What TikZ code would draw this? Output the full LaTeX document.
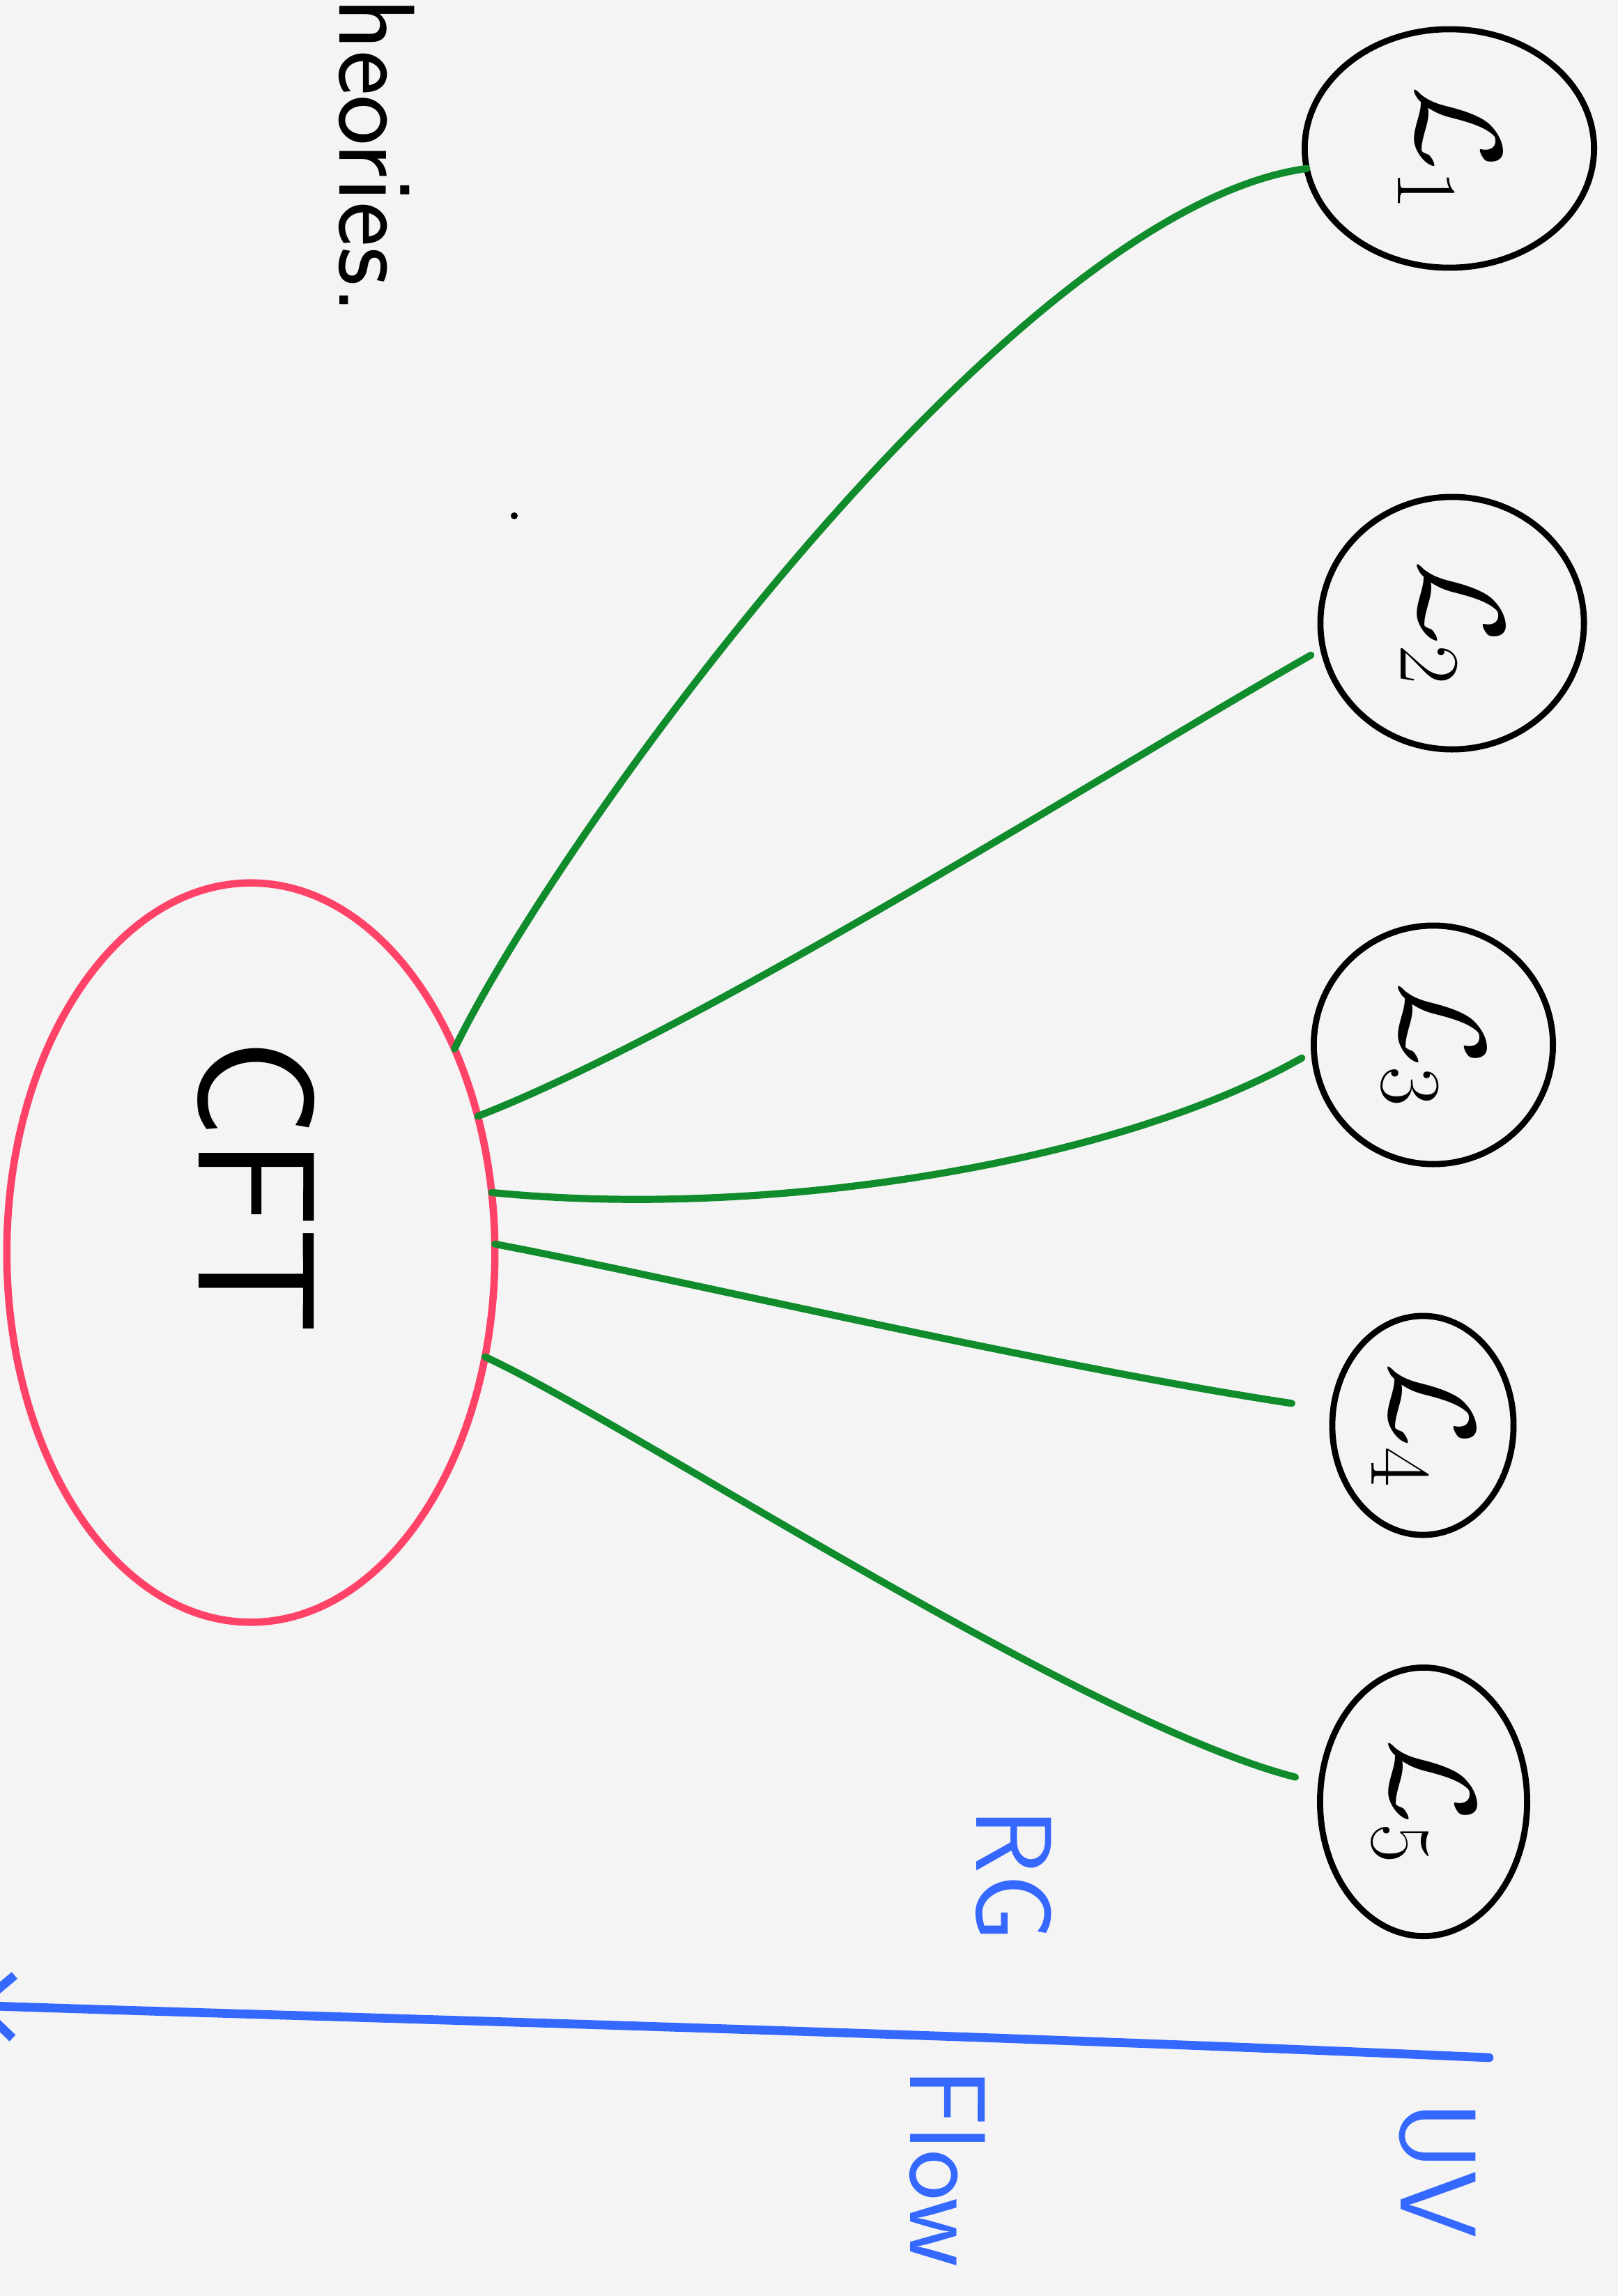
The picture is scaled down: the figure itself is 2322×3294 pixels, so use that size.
\RequirePackage{fix-cm}
\documentclass[tikz,border=0pt]{standalone}
\usepackage{amsmath,amssymb}
\usepackage{fontspec}
\usepackage{graphicx}
\usepackage{xcolor}
\usepackage{tikz}
\usetikzlibrary{shapes.geometric,arrows.meta}

\definecolor{paper}{RGB}{244,244,244}
\definecolor{cftred}{RGB}{255,66,104}
\definecolor{linkgreen}{RGB}{16,140,44}
\definecolor{rgblue}{RGB}{52,104,255}

\newcommand{\turned}[1]{\rotatebox{-90}{#1}}

\tikzset{
    theory/.style={
        ellipse, draw=black, line width=2.5pt,
        inner sep=0pt, outer sep=0pt,
        font=\fontsize{50}{54}\selectfont
    },
    cftblob/.style={
        ellipse, draw=cftred, line width=3pt,
        inner sep=0pt, outer sep=0pt,
        minimum width=7cm, minimum height=10.6cm
    },
    handtext/.style={
        rotate=-90, inner sep=0pt,
        font=\sffamily\fontsize{44}{48}\selectfont
    },
    coupling/.style={draw=linkgreen, line width=2.9pt, line cap=round},
    rgflow/.style={draw=rgblue, line width=3.6pt, line cap=round}
}

\begin{document}
\begin{tikzpicture}[x=0.01cm, y=-0.01cm]

%% page: 2322 x 3294 units, origin top left, y runs down
\useasboundingbox (0,0) rectangle (2322,3294);
\clip (0,0) rectangle (2322,3294);
\fill[paper] (0,0) rectangle (2322,3294);

%% heading, cut off at the top edge
\node[handtext, anchor=base west] (theories) at (487,-56) {theories.};
\fill (738,740) circle (5);

%% the CFT blob on the left
\node[cftblob] (cft) at (360,1797) {};
\node[handtext, font=\sffamily\fontsize{68}{72}\selectfont] (cftname) at (368,1702) {CFT};

%% UV theories on the right
\node[theory, minimum width=4.15cm, minimum height=3.42cm] (l1) at (2080,213)  {\turned{$\mathcal{L}_1$}};
\node[theory, minimum width=3.78cm, minimum height=3.62cm] (l2) at (2084,894)  {\turned{$\mathcal{L}_2$}};
\node[theory, minimum width=3.43cm, minimum height=3.42cm] (l3) at (2057,1499) {\turned{$\mathcal{L}_3$}};
\node[theory, minimum width=2.60cm, minimum height=3.14cm] (l4) at (2042,2045) {\turned{$\mathcal{L}_4$}};
\node[theory, minimum width=2.97cm, minimum height=3.85cm] (l5) at (2043,2585) {\turned{$\mathcal{L}_5$}};

%% flows from the CFT up to each theory
\draw[coupling] (cft.45) .. controls (800,1200) and (1450,300) .. (l1.188);
\draw[coupling, shorten >=0.2cm] (cft.31) .. controls (1000,1480) and (1600,1100) .. (l2.191);
\draw[coupling, shorten >=0.2cm] (cft.14) .. controls (1100,1750) and (1600,1670) .. (l3.183);
\draw[coupling, shorten >=0.6cm] (cft.2) .. controls (950,1830) and (1500,1960) .. (l4.170);
\draw[coupling, shorten >=0.38cm] (cft.-24) .. controls (900,2040) and (1550,2470) .. (l5.170);

%% RG flow axis, UV on the right
\coordinate (uvend) at (2137,2952);
\coordinate (irend) at (-40,2877);
\draw[rgflow, -{Straight Barb[length=0.5cm, width=0.9cm]}]
    (uvend) .. controls (1300,2915) and (500,2895) .. (irend);

\node[handtext, text=rgblue] (rgword)   at (1455,2690) {RG};
\node[handtext, text=rgblue] (flowword) at (1360,3110) {Flow};
\node[handtext, text=rgblue] (uvword)   at (2063,3113) {UV};

\end{tikzpicture}
\end{document}
